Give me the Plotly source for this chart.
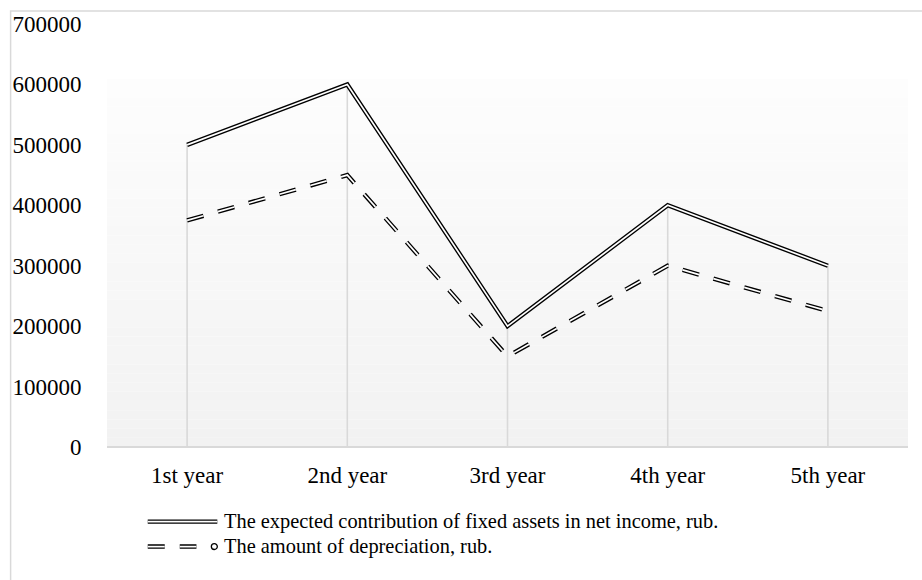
import plotly.graph_objects as go

categories = ["1st year", "2nd year", "3rd year", "4th year", "5th year"]
contribution = [500000, 600000, 200000, 400000, 300000]
depreciation = [375000, 450000, 150000, 300000, 225000]
name_contrib = "The expected contribution of fixed assets in net income, rub."
name_dep = "The amount of depreciation, rub."
y_ticks = [0, 100000, 200000, 300000, 400000, 500000, 600000, 700000]

FONT = "Liberation Serif, Times New Roman, serif"
DASH = "17px,15px"
OUT_W, IN_W = 4.4, 1.7

fig = go.Figure()

# drop lines
xs, ys = [], []
for c, a, b in zip(categories, contribution, depreciation):
    xs += [c, c, None]
    ys += [0, max(a, b), None]
fig.add_trace(go.Scatter(x=xs, y=ys, mode="lines", line=dict(color="#d9d9d9", width=1.6),
                         showlegend=False, hoverinfo="skip"))

for vals, dash, nm in [(contribution, "solid", name_contrib), (depreciation, DASH, name_dep)]:
    fig.add_trace(go.Scatter(x=categories, y=vals, mode="lines", name=nm,
                             line=dict(color="black", width=OUT_W, dash=dash), showlegend=False))
    fig.add_trace(go.Scatter(x=categories, y=vals, mode="lines", name=nm,
                             line=dict(color="white", width=IN_W, dash=dash), showlegend=False,
                             hoverinfo="skip"))

W, H = 922, 580
L, R, T, B = 102, 14, 22, 133
pw, ph = W - L - R, H - T - B
def px(x): return (x - L) / pw
def py(y): return (H - B - y) / ph

shapes = []
# gradient plot area
top = py(77)
n = 40
c0, c1 = (253, 253, 253), (242, 242, 242)
for i in range(n):
    t = i / (n - 1)
    col = tuple(round(c0[k] + (c1[k] - c0[k]) * t) for k in range(3))
    y1 = top - top * i / n
    y0 = top - top * (i + 1) / n
    shapes.append(dict(type="rect", xref="paper", yref="paper", x0=0, x1=1, y0=y0, y1=y1,
                       fillcolor="rgb(%d,%d,%d)" % col, line=dict(width=0), layer="below"))

# outer border
shapes.append(dict(type="rect", xref="paper", yref="paper", x0=px(5), x1=px(930), y0=py(590), y1=py(9),
                   line=dict(color="#d9d9d9", width=1.5), fillcolor="rgba(0,0,0,0)", layer="below"))

# custom legend
ly1, ly2 = 522, 547
for y, dash in [(ly1, "solid"), (ly2, DASH)]:
    for w, colr in [(OUT_W, "black"), (IN_W, "white")]:
        shapes.append(dict(type="line", xref="paper", yref="paper", x0=px(143), x1=px(213) if dash == "solid" else px(192),
                           y0=py(y), y1=py(y), line=dict(color=colr, width=w, dash=dash)))
shapes.append(dict(type="circle", xref="paper", yref="paper", x0=px(207), x1=px(213), y0=py(ly2 + 3), y1=py(ly2 - 3),
                   line=dict(color="black", width=1.3), fillcolor="white"))

annotations = [
    dict(x=px(218), y=py(ly1), xref="paper", yref="paper", text=name_contrib, showarrow=False,
         xanchor="left", yanchor="middle", font=dict(family=FONT, size=20.4, color="black")),
    dict(x=px(218), y=py(ly2), xref="paper", yref="paper", text=name_dep, showarrow=False,
         xanchor="left", yanchor="middle", font=dict(family=FONT, size=20.4, color="black")),
]

fig.update_layout(
    width=W, height=H,
    margin=dict(l=L, r=R, t=T, b=B),
    paper_bgcolor="white", plot_bgcolor="rgba(0,0,0,0)",
    font=dict(family=FONT, size=21, color="black"),
    shapes=shapes, annotations=annotations, showlegend=False,
    xaxis=dict(type="category", categoryorder="array", categoryarray=categories, range=[-0.5, 4.5],
               showgrid=False, zeroline=False, showline=False, ticks="outside", ticklen=7,
               tickcolor="rgba(0,0,0,0)", tickfont=dict(family=FONT, size=23)),
    yaxis=dict(range=[0, 700000], tickvals=y_ticks, tickformat="d", showgrid=False,
               zeroline=True, zerolinecolor="#d9d9d9", zerolinewidth=1.6, showline=False,
               ticks="outside", ticklen=20, tickcolor="rgba(0,0,0,0)",
               tickfont=dict(family=FONT, size=23)),
)

fig.write_html("out.html")
